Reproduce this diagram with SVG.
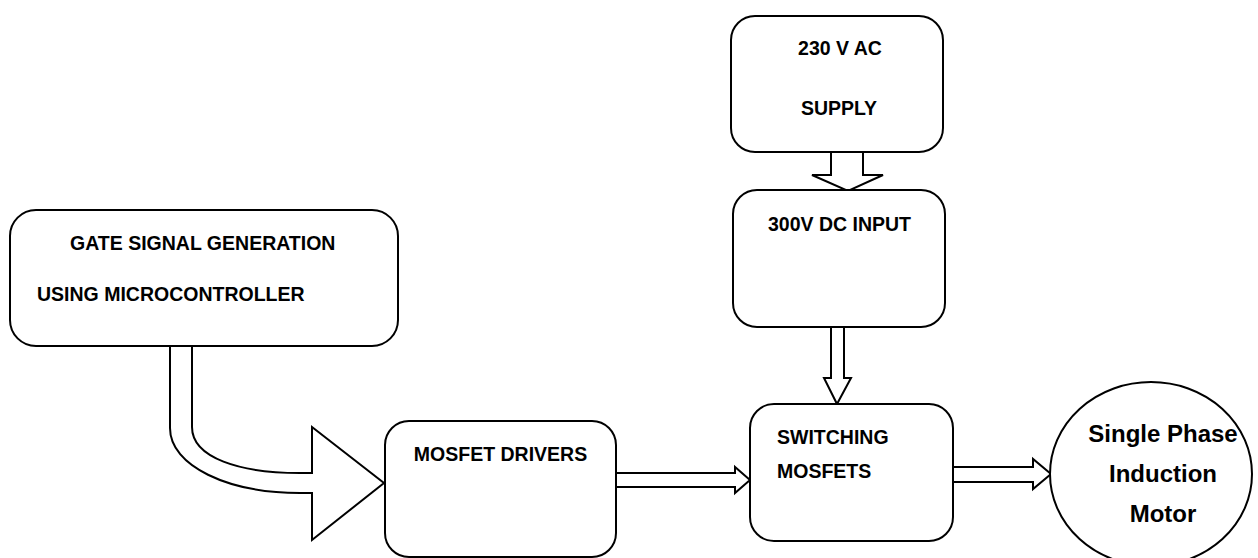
<svg xmlns="http://www.w3.org/2000/svg" width="1258" height="558" viewBox="0 0 1258 558">
<style>
.box{fill:#fff;stroke:#000;stroke-width:2}
.arr{fill:#fff;stroke:#000;stroke-width:2;stroke-linejoin:miter}
.t{font-family:"Liberation Sans",Arial,sans-serif;font-weight:bold;font-size:19.5px;fill:#000}
.tm{font-family:"Liberation Sans",Arial,sans-serif;font-weight:bold;font-size:24px;fill:#000;text-anchor:middle}
</style>
<rect width="1258" height="558" fill="#fff"/>
<g id="connectors">
<path class="arr" d="M192,346 V427 C192,458 240,473 300,473 H312 V427 L384,483 L312,540 V493 H300 C228,493 170,466 170,428 V346"/>
<path class="arr" d="M831,152 V175 H812 L848,191 L883,175 H863 V152"/>
<path class="arr" d="M831,327 V378 H824 L837,404 L851,378 H844 V327"/>
<path class="arr" d="M616,473 H735 V467 L750,480 L735,493 V487 H616"/>
<path class="arr" d="M953,467 H1033 V459 L1051,474 L1033,489 V482 H953"/>
</g>
<g id="gate">
<rect class="box" x="10" y="210" width="388" height="136" rx="26"/>
<text class="t" x="70" y="250">GATE SIGNAL GENERATION</text>
<text class="t" x="37" y="301">USING MICROCONTROLLER</text>
</g>
<g id="ac">
<rect class="box" x="731" y="16" width="212" height="136" rx="24"/>
<text class="t" x="840" y="55" text-anchor="middle">230 V AC</text>
<text class="t" x="839" y="115" text-anchor="middle">SUPPLY</text>
</g>
<g id="dc">
<rect class="box" x="733" y="190" width="212" height="137" rx="24"/>
<text class="t" x="839.5" y="231" text-anchor="middle">300V DC INPUT</text>
</g>
<g id="drivers">
<rect class="box" x="385" y="421" width="231" height="136" rx="24"/>
<text class="t" x="500.5" y="461" text-anchor="middle">MOSFET DRIVERS</text>
</g>
<g id="switching">
<rect class="box" x="750" y="404" width="203" height="137" rx="24"/>
<text class="t" x="777" y="444">SWITCHING</text>
<text class="t" x="777" y="478">MOSFETS</text>
</g>
<g id="motor">
<ellipse class="box" cx="1151" cy="474" rx="101" ry="92"/>
<text class="tm" x="1163" y="442">Single Phase</text>
<text class="tm" x="1163" y="482">Induction</text>
<text class="tm" x="1163" y="522">Motor</text>
</g>
</svg>
